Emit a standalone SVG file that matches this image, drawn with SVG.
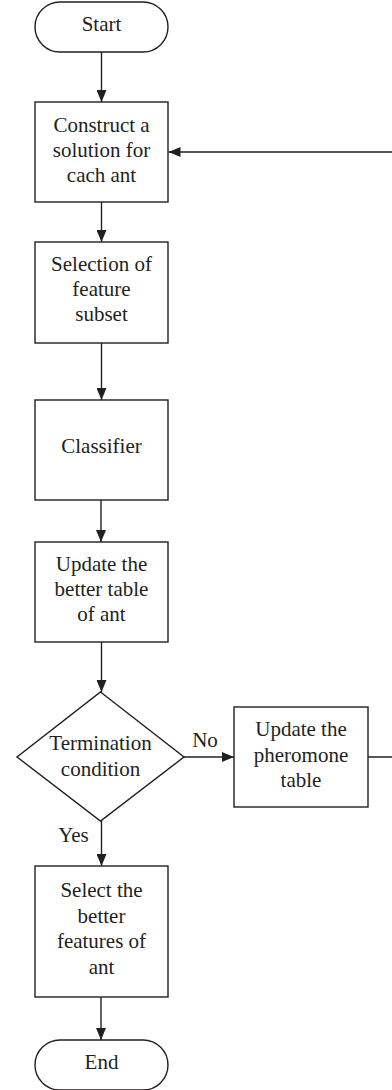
<svg xmlns="http://www.w3.org/2000/svg" width="392" height="1090" viewBox="0 0 392 1090">
<style>
.s{fill:#fff;stroke:#231f20;stroke-width:1.4}
.c{fill:none;stroke:#231f20;stroke-width:1.4}
.t{font-size:21px;fill:#231f20;text-anchor:middle}
</style>
<defs>
<marker id="ah" markerUnits="userSpaceOnUse" markerWidth="12" markerHeight="10" refX="12" refY="5" orient="auto" viewBox="0 0 12 10">
<path d="M0,0 L12,5 L0,10 z" fill="#231f20"/>
</marker>
</defs>
<rect width="392" height="1090" fill="#fff"/>
<g font-family="'Liberation Serif', 'DejaVu Serif', serif">
<g id="connectors">
<line class="c" x1="101.5" y1="52" x2="101.5" y2="102" marker-end="url(#ah)"/>
<line class="c" x1="101.5" y1="202" x2="101.5" y2="242" marker-end="url(#ah)"/>
<line class="c" x1="101.5" y1="343" x2="101.5" y2="400" marker-end="url(#ah)"/>
<line class="c" x1="101" y1="500" x2="101" y2="542" marker-end="url(#ah)"/>
<line class="c" x1="101.5" y1="642" x2="101.5" y2="692" marker-end="url(#ah)"/>
<line class="c" x1="184" y1="757" x2="234" y2="757" marker-end="url(#ah)"/>
<line class="c" x1="101.5" y1="821" x2="101.5" y2="866" marker-end="url(#ah)"/>
<line class="c" x1="101" y1="997" x2="101" y2="1040" marker-end="url(#ah)"/>
<path class="c" d="M368,757 H396 V152 H168.5" marker-end="url(#ah)"/>
<text class="t" x="205" y="747">No</text>
<text class="t" x="73.5" y="842">Yes</text>
</g>
<g id="start">
<rect class="s" x="35" y="2" width="133" height="50" rx="25" ry="25"/>
<text class="t" x="101.5" y="31">Start</text>
</g>
<g id="construct">
<rect class="s" x="35" y="102" width="133" height="100"/>
<text class="t" x="101.5" y="132">Construct a</text>
<text class="t" x="101.5" y="157">solution for</text>
<text class="t" x="101.5" y="182">cach ant</text>
</g>
<g id="selection">
<rect class="s" x="35" y="242" width="133" height="101"/>
<text class="t" x="101.5" y="271">Selection of</text>
<text class="t" x="101.5" y="296">feature</text>
<text class="t" x="101.5" y="321">subset</text>
</g>
<g id="classifier">
<rect class="s" x="35" y="400" width="133" height="100"/>
<text class="t" x="101.5" y="453">Classifier</text>
</g>
<g id="update-better">
<rect class="s" x="35" y="542" width="133" height="100"/>
<text class="t" x="101.5" y="571">Update the</text>
<text class="t" x="101.5" y="596">better table</text>
<text class="t" x="101.5" y="621">of ant</text>
</g>
<g id="termination">
<polygon class="s" points="100.5,692 184,757 100.5,821 17,757"/>
<text class="t" x="100.5" y="750">Termination</text>
<text class="t" x="100.5" y="776">condition</text>
</g>
<g id="pheromone">
<rect class="s" x="234" y="707" width="134" height="100"/>
<text class="t" x="301" y="736">Update the</text>
<text class="t" x="301" y="761.5">pheromone</text>
<text class="t" x="301" y="787">table</text>
</g>
<g id="select-better">
<rect class="s" x="35" y="866" width="133" height="131"/>
<text class="t" x="101.5" y="897">Select the</text>
<text class="t" x="101.5" y="922.5">better</text>
<text class="t" x="101.5" y="948">features of</text>
<text class="t" x="101.5" y="973.5">ant</text>
</g>
<g id="end">
<rect class="s" x="35" y="1040" width="133" height="50" rx="25" ry="25"/>
<text class="t" x="101.5" y="1069">End</text>
</g>
</g>
</svg>
